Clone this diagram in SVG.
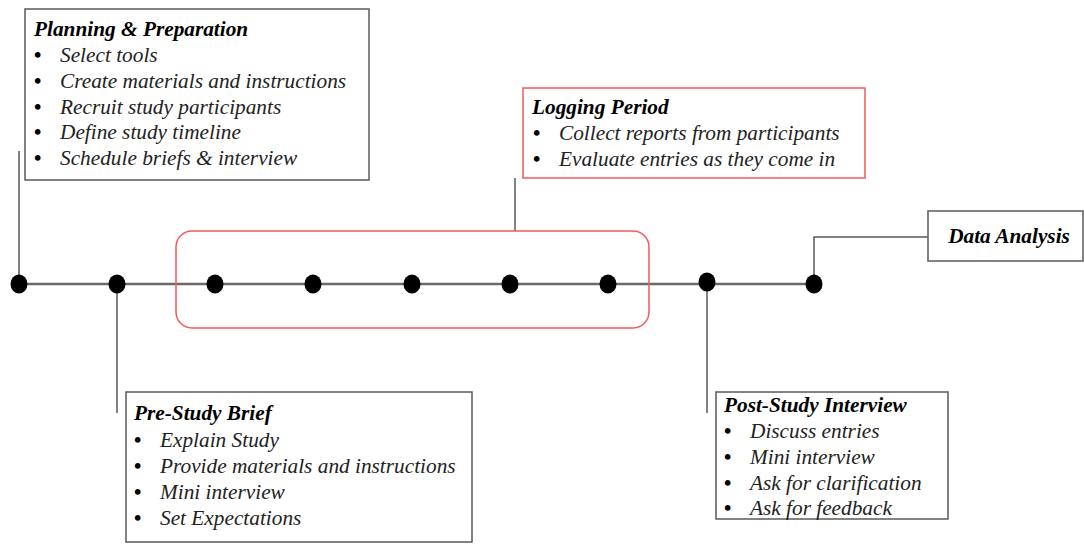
<svg xmlns="http://www.w3.org/2000/svg" width="1084" height="554" viewBox="0 0 1084 554">
<style>
.box{fill:#fff;stroke:#5a5a5a;stroke-width:1.5}
.rbox{fill:#fff;stroke:#f05a5a;stroke-width:1.5}
.ln{fill:none;stroke:#5a5a5a;stroke-width:1.5}
.tl{fill:none;stroke:#6a6a6a;stroke-width:2.5}
.dot{fill:#000}
text{font-family:"Liberation Serif","Times New Roman",serif;font-size:21.3px;font-style:italic;fill:#222}
.t{font-weight:bold;fill:#000}
.b{font-style:normal;font-weight:bold;font-size:21px;fill:#000}
</style>
<rect width="1084" height="554" fill="#fff"/>
<g id="connectors">
<line class="tl" x1="19" y1="284" x2="814" y2="284"/>
<line class="ln" x1="19" y1="151" x2="19" y2="284"/>
<line class="ln" x1="515" y1="178" x2="515" y2="231"/>
<line class="ln" x1="117" y1="284" x2="117" y2="413"/>
<line class="ln" x1="707" y1="284" x2="707" y2="413"/>
<polyline class="ln" points="814,284 814,237 928,237"/>
</g>
<g id="logging-range">
<rect x="176" y="231" width="473" height="97" rx="16" fill="none" stroke="#f05a5a" stroke-width="1.5"/>
</g>
<g id="dots">
<ellipse class="dot" cx="19" cy="284" rx="8.5" ry="9.5"/>
<ellipse class="dot" cx="117" cy="284" rx="8.5" ry="9.5"/>
<ellipse class="dot" cx="215" cy="284" rx="8.5" ry="9.5"/>
<ellipse class="dot" cx="313" cy="284" rx="8.5" ry="9.5"/>
<ellipse class="dot" cx="412" cy="284" rx="8.5" ry="9.5"/>
<ellipse class="dot" cx="510" cy="284" rx="8.5" ry="9.5"/>
<ellipse class="dot" cx="608" cy="284" rx="8.5" ry="9.5"/>
<ellipse class="dot" cx="707" cy="282" rx="8.5" ry="9.5"/>
<ellipse class="dot" cx="814" cy="284" rx="8.5" ry="9.5"/>
</g>
<g id="planning">
<rect class="box" x="25" y="9" width="344" height="171"/>
<text class="t" x="34" y="36">Planning &amp; Preparation</text>
<text class="b" x="34" y="62">•</text><text x="60" y="62">Select tools</text>
<text class="b" x="34" y="88">•</text><text x="60" y="88">Create materials and instructions</text>
<text class="b" x="34" y="114">•</text><text x="60" y="114">Recruit study participants</text>
<text class="b" x="34" y="139">•</text><text x="60" y="139">Define study timeline</text>
<text class="b" x="34" y="165">•</text><text x="60" y="165">Schedule briefs &amp; interview</text>
</g>
<g id="logging">
<rect class="rbox" x="523" y="88" width="342" height="90"/>
<text class="t" x="532" y="114">Logging Period</text>
<text class="b" x="533" y="140">•</text><text x="559" y="140">Collect reports from participants</text>
<text class="b" x="533" y="166">•</text><text x="559" y="166">Evaluate entries as they come in</text>
</g>
<g id="prestudy">
<rect class="box" x="126" y="392" width="346" height="150"/>
<text class="t" x="134" y="420">Pre-Study Brief</text>
<text class="b" x="134" y="447">•</text><text x="160" y="447">Explain Study</text>
<text class="b" x="134" y="473">•</text><text x="160" y="473">Provide materials and instructions</text>
<text class="b" x="134" y="499">•</text><text x="160" y="499">Mini interview</text>
<text class="b" x="134" y="525">•</text><text x="160" y="525">Set Expectations</text>
</g>
<g id="poststudy">
<rect class="box" x="716" y="392" width="232" height="127"/>
<text class="t" x="724" y="412">Post-Study Interview</text>
<text class="b" x="724" y="438">•</text><text x="750" y="438">Discuss entries</text>
<text class="b" x="724" y="464">•</text><text x="750" y="464">Mini interview</text>
<text class="b" x="724" y="490">•</text><text x="750" y="490">Ask for clarification</text>
<text class="b" x="724" y="515">•</text><text x="750" y="515">Ask for feedback</text>
</g>
<g id="analysis">
<rect class="box" x="928" y="211" width="155" height="50"/>
<text class="t" x="1009" y="243" text-anchor="middle">Data Analysis</text>
</g>
</svg>
